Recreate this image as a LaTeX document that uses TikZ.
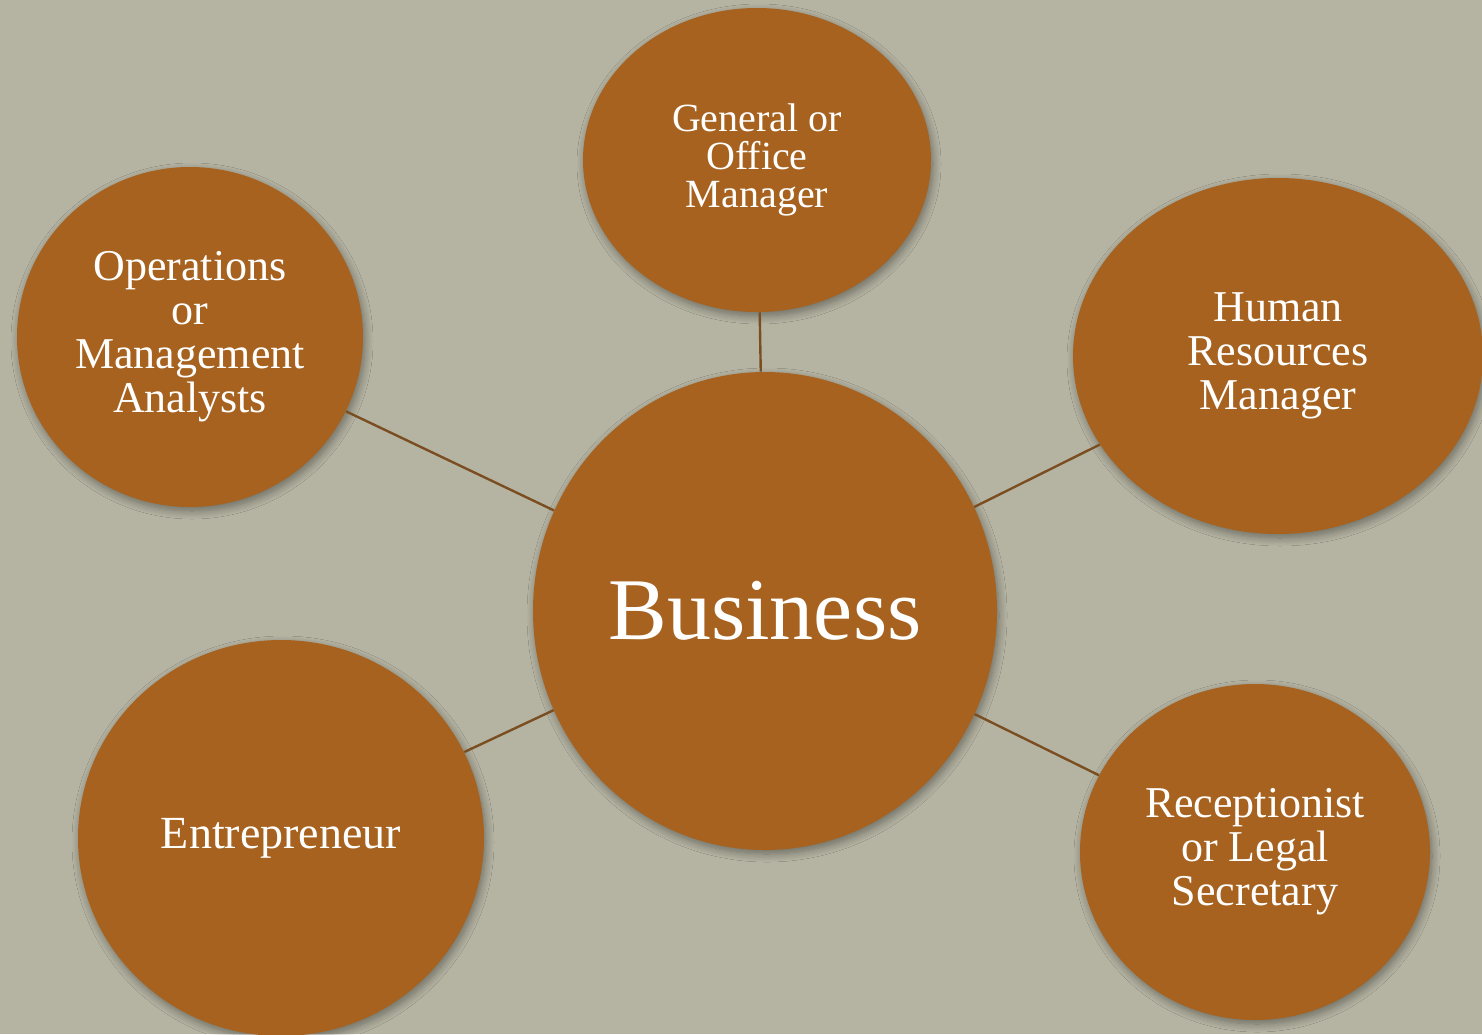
\documentclass[tikz,border=0pt]{standalone}
\usepackage{fontspec}
\setmainfont{Liberation Serif}
\usetikzlibrary{shapes.geometric, shadows.blur}
\definecolor{leather}{RGB}{166,98,30}
\definecolor{felt}{RGB}{181,180,163}
\definecolor{stitch}{RGB}{122,78,32}
\newcommand{\jobfont}{\fontsize{22pt}{22pt}\selectfont}

\tikzset{
  job/.style={ellipse, fill=leather, text=white, align=center, inner sep=0pt,
    font=\jobfont,
    blur shadow={shadow xshift=1pt, shadow yshift=-2pt, shadow blur radius=4pt,
      shadow blur steps=10, shadow opacity=40}},
  link/.style={draw=stitch, line width=1.2pt},
}

\begin{document}
\begin{tikzpicture}[x=0.5pt, y=-0.5pt]
            \fill[felt] (0,0) rectangle (1482,1034);
            \useasboundingbox (0,0) rectangle (1482,1034);
            \node[job, minimum width=232pt, minimum height=239pt,
            font=\fontsize{44pt}{44pt}\selectfont] (business) at (765,611) {Business};
            \node[job, minimum width=174pt, minimum height=152pt,
            font=\fontsize{20pt}{19pt}\selectfont] (general) at (757,160) {General or\\Office\\Manager};
            \node[job, minimum width=173pt, minimum height=170pt] (operations) at (190,337) {Operations\\or\\Management\\Analysts};
            \node[job, minimum width=205pt, minimum height=178pt] (hr) at (1278,356) {Human\\Resources\\Manager};
            \node[job, minimum width=203pt, minimum height=198pt,
            font=\fontsize{23pt}{23pt}\selectfont] (entrepreneur) at (281,838) {Entrepreneur};
            \node[job, minimum width=175pt, minimum height=168pt] (reception) at (1255,852) {Receptionist\\or Legal\\Secretary};
            \draw[link] (business) -- (general);
            \draw[link] (business) -- (operations);
            \draw[link] (business) -- (hr);
            \draw[link] (business) -- (entrepreneur);
            \draw[link] (business) -- (reception);
        \end{tikzpicture}
\end{document}
